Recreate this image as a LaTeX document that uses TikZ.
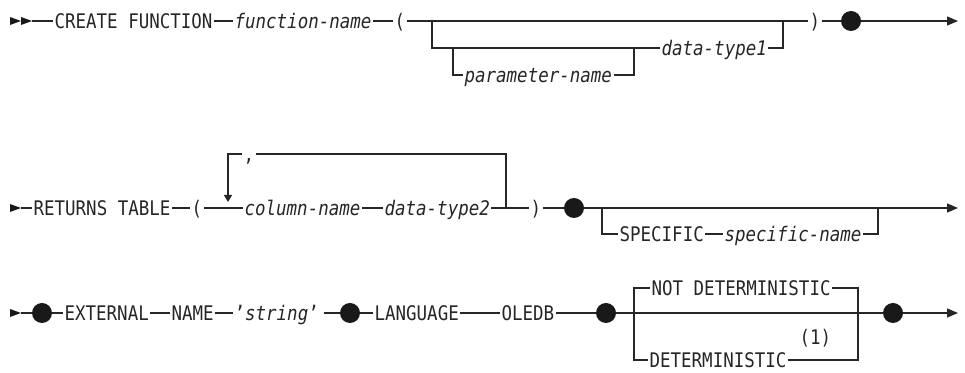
\documentclass[tikz,border=0pt]{standalone}
\usepackage{fontspec}
\setmonofont[FakeStretch=0.87]{DejaVu Sans Mono}
\usetikzlibrary{arrows.meta}

\tikzset{
  kw/.style={anchor=west, inner xsep=0.6pt, inner ysep=0pt, text height=7.3pt, text depth=0pt,
    text=black!85, font=\ttfamily\fontsize{10.05}{11}\selectfont},
  var/.style={kw, font=\ttfamily\itshape\fontsize{10.05}{11}\selectfont},
  dot/.style={circle, fill=black!90, minimum size=10pt, inner sep=0pt},
  rail/.style={draw=black!85, line width=0.65pt},
  endtip/.style={-{Triangle[length=5.5pt,width=4.5pt]}},
  downtip/.style={-{Triangle[length=3.5pt,width=4pt]}},
}

\begin{document}
\begin{tikzpicture}[x=0.5pt,y=-0.5pt]
\useasboundingbox (0,0) rectangle (965,373);

% first row
\fill[black!90] (10,17) -- (21,21) -- (10,25) -- cycle;
\fill[black!90] (21,17) -- (32,21) -- (21,25) -- cycle;
\coordinate (st1) at (32,21);
\node[kw] (cf) at (53,21) {CREATE FUNCTION};
\node[var] (fn) at (233,21) {function-name};
\node[kw] (lp1) at (393,21) {(};
\node[kw] (rp1) at (808,21) {)};
\node[dot] (d1) at (851,21) {};
\coordinate (e1) at (958,21);
\node[var] (dt1) at (660,48) {data-type1};
\node[var] (pn) at (463,75) {parameter-name};
\coordinate (b1) at (432,21);
\coordinate (b2) at (453,48);
\coordinate (b3) at (634,48);
\coordinate (b4) at (783,21);

\draw[rail] (st1) -- (cf.west);
\draw[rail] (cf.east) -- (fn.west);
\draw[rail] (fn.east) -- (lp1.west);
\draw[rail] (lp1.east) -- (rp1.west);
\draw[rail] (b1) |- (dt1.west);
\draw[rail] (b2) |- (pn.west);
\draw[rail] (pn.east) -| (b3);
\draw[rail] (dt1.east) -| (b4);
\draw[rail] (rp1.east) -- (d1);
\draw[rail,endtip] (d1) -- (e1);

% second row
\fill[black!90] (10,204) -- (21,208) -- (10,212) -- cycle;
\coordinate (st2) at (21,208);
\node[kw] (rt) at (32,208) {RETURNS TABLE};
\node[kw] (lp2) at (190,208) {(};
\node[var] (cn) at (243,208) {column-name};
\node[var] (dt2) at (383,208) {data-type2};
\node[kw] (rp2) at (529,208) {)};
\node[dot] (d2) at (574,208) {};
\coordinate (e2) at (958,208);
\node[kw] (cm) at (242,154) {,};
\coordinate (lp) at (506,208);
\coordinate (lq) at (228,202);
\node[kw] (sp) at (618,234) {SPECIFIC};
\node[var] (sn) at (723,234) {specific-name};
\coordinate (s1) at (602,208);
\coordinate (s2) at (878,208);

\draw[rail] (st2) -- (rt.west);
\draw[rail] (rt.east) -- (lp2.west);
\draw[rail] (lp2.east) -- (cn.west);
\draw[rail] (cn.east) -- (dt2.west);
\draw[rail] (dt2.east) -- (rp2.west);
\draw[rail] (lp) |- (cm.east);
\draw[rail,downtip] (cm.west) -| (lq);
\draw[rail] (rp2.east) -- (d2);
\draw[rail,endtip] (d2) -- (e2);
\draw[rail] (s1) |- (sp.west);
\draw[rail] (sp.east) -- (sn.west);
\draw[rail] (sn.east) -| (s2);

% third row
\fill[black!90] (10,309) -- (21,313) -- (10,317) -- cycle;
\coordinate (st3) at (21,313);
\node[dot] (d3a) at (42,313) {};
\node[kw] (ex) at (63,313) {EXTERNAL};
\node[kw] (nm) at (170,313) {NAME};
\node[kw] (sg) at (233,313) {’\textit{string}’};
\node[dot] (d3b) at (350,313) {};
\node[kw] (lg) at (373,313) {LANGUAGE};
\node[kw] (ol) at (500,313) {OLEDB};
\node[dot] (d3c) at (606,313) {};
\node[kw] (nd) at (650,288) {NOT DETERMINISTIC};
\node[kw] (dm) at (648,360) {DETERMINISTIC};
\node[kw] (nt) at (798,337) {(1)};
\node[dot] (d3d) at (893,313) {};
\coordinate (e3) at (958,313);
\coordinate (c1) at (634,313);
\coordinate (c2) at (858,313);

\draw[rail] (st3) -- (d3a);
\draw[rail] (d3a) -- (ex.west);
\draw[rail] (ex.east) -- (nm.west);
\draw[rail] (nm.east) -- (sg.west);
\draw[rail,shorten <=2pt] (sg.east) -- (d3b);
\draw[rail] (d3b) -- (lg.west);
\draw[rail] (lg.east) -- (ol.west);
\draw[rail] (ol.east) -- (d3c);
\draw[rail] (d3c) -- (d3d);
\draw[rail] (c1) |- (nd.west);
\draw[rail] (nd.east) -| (c2);
\draw[rail] (c1) |- (dm.west);
\draw[rail] (dm.east) -| (c2);
\draw[rail,endtip] (d3d) -- (e3);
\end{tikzpicture}
\end{document}
